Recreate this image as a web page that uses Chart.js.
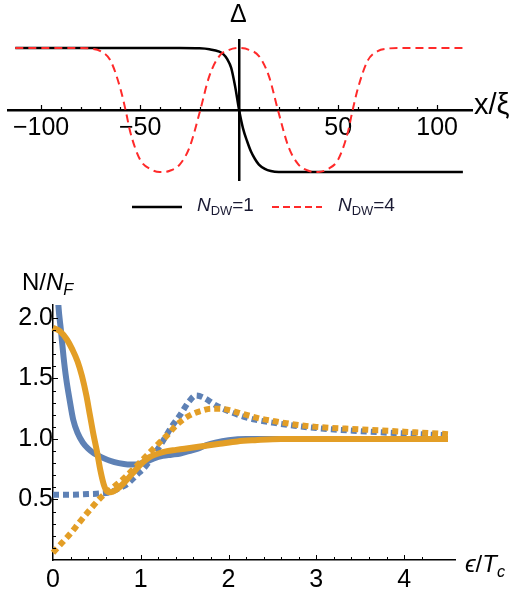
<!DOCTYPE html>
<html>
<head>
<meta charset="utf-8">
<script src="https://cdn.jsdelivr.net/npm/chart.js@4"></script>
<style>
  body { margin: 0; width: 521px; height: 599px; background: #fff; position: relative; overflow: hidden; font-family: "Liberation Sans", Arial, sans-serif; }
  canvas { position: absolute; left: 0; }
  #top { top: 0; }
  #bottom { top: 230px; }
  .lbl { position: absolute; line-height: 1; color: #000; white-space: nowrap; z-index: 2; }
  .lbl sub { font-size: 0.68em; vertical-align: -0.3em; }
  .leg { position: absolute; z-index: 2; }
</style>
</head>
<body>
<canvas id="top" width="521" height="230"></canvas>
<canvas id="bottom" width="521" height="369"></canvas>

<div class="lbl" style="left:230px; top:1px; font-size:25px;">Δ</div>
<div class="lbl" style="left:474px; top:90px; font-size:29px;">x/ξ</div>

<svg class="leg" style="left:132px; top:202px;" width="52" height="10"><line x1="0" y1="5" x2="50" y2="5" stroke="#000" stroke-width="2.5"/></svg>
<div class="lbl" style="left:197px; top:195px; font-size:19px; color:#1a1a33;"><i>N</i><sub>DW</sub>=1</div>
<svg class="leg" style="left:272px; top:202px;" width="52" height="10"><line x1="0" y1="5" x2="50" y2="5" stroke="#ff2a2a" stroke-width="2" stroke-dasharray="7,4"/></svg>
<div class="lbl" style="left:338px; top:195px; font-size:19px; color:#1a1a33;"><i>N</i><sub>DW</sub>=4</div>

<div class="lbl" style="left:22px; top:270px; font-size:24px;">N/<i>N</i><sub><i>F</i></sub></div>
<div class="lbl" style="left:465px; top:552px; font-size:24px;"><i>ϵ</i>/<i>T</i><sub><i>c</i></sub></div>

<script>
// ---- top panel: order parameter profile ----
const dwX1 = [-113, -30, -20, -15, -10, -8, -6, -4, -2, 0, 2, 4, 6, 8, 10, 13, 16, 20, 30, 113];
const dwY1 = [1, 1, 0.995, 0.98, 0.94, 0.9, 0.82, 0.68, 0.38, 0.0, -0.3, -0.5, -0.67, -0.79, -0.88, -0.95, -0.985, -1, -1, -1];

const dwX4 = [-113, -90, -80, -75, -70, -65, -60, -57, -55, -50, -45, -40, -38, -35, -30, -25, -20, -15, -10, -5, 0,
              5, 10, 15, 20, 25, 30, 35, 38, 40, 45, 50, 55, 57, 60, 65, 70, 75, 80, 90, 113];
const dwY4 = [1, 1, 1, 0.99, 0.95, 0.8, 0.35, -0.05, -0.35, -0.8, -0.95, -1, -1, -0.98, -0.88, -0.6, -0.05, 0.55, 0.87, 0.97, 1,
              0.97, 0.87, 0.55, -0.05, -0.6, -0.88, -0.98, -1, -1, -0.95, -0.8, -0.35, -0.05, 0.35, 0.8, 0.95, 0.99, 1, 1, 1];

const topTickLabels = [-100, -50, 50, 100];

// ---- bottom panel: density of states ----
const bsX = [0.03, 0.06, 0.09, 0.12, 0.15, 0.19, 0.23, 0.28, 0.34, 0.4, 0.47, 0.55, 0.65, 0.75, 0.85, 0.95, 1.05, 1.15, 1.25, 1.35, 1.45, 1.55, 1.65, 1.75, 1.85, 2.0, 2.2, 2.5, 3.0, 3.5, 4.0, 4.5];
const bsY = [2.6, 2.12, 1.9, 1.68, 1.5, 1.32, 1.16, 1.05, 0.97, 0.92, 0.88, 0.85, 0.82, 0.8, 0.79, 0.79, 0.81, 0.84, 0.86, 0.87, 0.88, 0.9, 0.92, 0.95, 0.97, 0.99, 1.0, 1.0, 1.0, 1.0, 1.0, 1.0];

const osX = [0, 0.08, 0.16, 0.22, 0.28, 0.33, 0.38, 0.42, 0.46, 0.5, 0.54, 0.58, 0.62, 0.66, 0.72, 0.8, 0.9, 1.0, 1.1, 1.2, 1.3, 1.4, 1.5, 1.7, 1.9, 2.1, 2.3, 2.6, 3.0, 3.5, 4.0, 4.5];
const osY = [1.92, 1.89, 1.82, 1.74, 1.64, 1.52, 1.36, 1.2, 1.04, 0.9, 0.74, 0.62, 0.565, 0.56, 0.58, 0.63, 0.71, 0.79, 0.85, 0.88, 0.9, 0.91, 0.92, 0.94, 0.96, 0.98, 0.99, 1.0, 1.0, 1.0, 1.0, 1.0];

const bdX = [0, 0.2, 0.4, 0.55, 0.65, 0.75, 0.85, 0.95, 1.05, 1.15, 1.25, 1.35, 1.45, 1.55, 1.63, 1.72, 1.85, 2.0, 2.15, 2.3, 2.5, 2.75, 3.0, 3.5, 4.0, 4.5];
const bdY = [0.54, 0.54, 0.545, 0.55, 0.56, 0.59, 0.63, 0.7, 0.77, 0.87, 0.98, 1.1, 1.2, 1.31, 1.36, 1.34, 1.28, 1.23, 1.19, 1.16, 1.135, 1.11, 1.09, 1.065, 1.045, 1.03];

const odX = [0, 0.1, 0.2, 0.3, 0.45, 0.55, 0.65, 0.8, 0.9, 1.05, 1.2, 1.3, 1.4, 1.5, 1.6, 1.7, 1.8, 1.9, 2.0, 2.15, 2.35, 2.5, 2.75, 3.0, 3.5, 4.0, 4.5];
const odY = [0.06, 0.14, 0.22, 0.31, 0.44, 0.52, 0.58, 0.67, 0.74, 0.85, 0.96, 1.03, 1.11, 1.17, 1.21, 1.235, 1.25, 1.25, 1.24, 1.21, 1.17, 1.15, 1.12, 1.1, 1.08, 1.06, 1.04];

const xTickLabels = [0, 1, 2, 3, 4];
const yTickLabels = [0.5, 1.0, 1.5, 2.0];

const BLUE = '#5E81B5';
const ORANGE = '#E39E26';
const FONT = "'Liberation Sans', Arial, sans-serif";

function pts(xs, ys) {
    return xs.map((x, i) => ({ x: x, y: ys[i] }));
}

function isMult(v, step) {
    return Math.abs(v / step - Math.round(v / step)) < 1e-6;
}

// Mathematica style tick marks, drawn inside the axes
function makeTicks(cfg) {
    return {
        id: 'axisTicks',
        afterDraw(chart) {
            const ctx = chart.ctx;
            const xs = chart.scales.x, ys = chart.scales.y;
            ctx.save();
            ctx.strokeStyle = '#000';
            ctx.lineWidth = cfg.width;
            const y0 = ys.getPixelForValue(cfg.xAt);
            xs.ticks.forEach(t => {
                const v = t.value;
                if (!isMult(v, cfg.xStep) || Math.abs(v) < 1e-9) return;
                const len = isMult(v, cfg.xMajor) ? cfg.majorLen : cfg.minorLen;
                const px = Math.round(xs.getPixelForValue(v)) + 0.5;
                ctx.beginPath();
                ctx.moveTo(px, y0);
                ctx.lineTo(px, y0 - len);
                ctx.stroke();
            });
            if (cfg.yStep) {
                const x0 = xs.getPixelForValue(cfg.yAt);
                ys.ticks.forEach(t => {
                    const v = t.value;
                    if (!isMult(v, cfg.yStep) || Math.abs(v) < 1e-9) return;
                    const len = isMult(v, cfg.yMajor) ? cfg.majorLen : cfg.minorLen;
                    const py = Math.round(ys.getPixelForValue(v)) + 0.5;
                    ctx.beginPath();
                    ctx.moveTo(x0, py);
                    ctx.lineTo(x0 + len, py);
                    ctx.stroke();
                });
            }
            ctx.restore();
        }
    };
}

const topChart = new Chart(document.getElementById('top'), {
    type: 'line',
    data: {
        datasets: [
            {
                label: 'N_DW=4',
                data: pts(dwX4, dwY4),
                borderColor: '#ff2a2a',
                borderWidth: 2,
                borderDash: [8, 5],
                pointRadius: 0,
                cubicInterpolationMode: 'monotone'
            },
            {
                label: 'N_DW=1',
                data: pts(dwX1, dwY1),
                borderColor: '#000',
                borderWidth: 2.5,
                pointRadius: 0,
                cubicInterpolationMode: 'monotone'
            }
        ]
    },
    options: {
        responsive: false,
        animation: false,
        layout: { padding: { left: 8, right: 49, top: 40, bottom: 50 } },
        plugins: { legend: { display: false }, tooltip: { enabled: false } },
        scales: {
            x: {
                type: 'linear',
                position: { y: 0 },
                min: -116.7,
                max: 117.6,
                grid: { display: true, drawOnChartArea: false, drawTicks: false },
                border: { display: true, color: '#000', width: 2.5 },
                ticks: {
                    stepSize: 10,
                    autoSkip: false,
                    maxRotation: 0,
                    padding: 3,
                    color: '#000',
                    font: { family: FONT, size: 25 },
                    callback: v => topTickLabels.includes(Math.round(v)) && isMult(v, 10) ? String(Math.round(v)).replace('-', '\u2212') : ''
                }
            },
            y: {
                type: 'linear',
                position: { x: 0 },
                min: -1.129,
                max: 1.129,
                grid: { display: true, drawOnChartArea: false, drawTicks: false },
                border: { display: true, color: '#000', width: 2.5 },
                ticks: { display: false }
            }
        }
    },
    plugins: [makeTicks({ width: 1.2, xAt: 0, xStep: 10, xMajor: 50, majorLen: 5, minorLen: 3 })]
});

const dotted = [6, 4];

const bottomChart = new Chart(document.getElementById('bottom'), {
    type: 'line',
    data: {
        datasets: [
            {
                label: 'orange dotted',
                data: pts(odX, odY),
                borderColor: ORANGE,
                borderWidth: 6,
                borderDash: dotted,
                borderCapStyle: 'butt',
                pointRadius: 0,
                cubicInterpolationMode: 'monotone',
                clip: { left: 4, top: 0, right: 6, bottom: 4 }
            },
            {
                label: 'orange solid',
                data: pts(osX, osY),
                borderColor: ORANGE,
                borderWidth: 6,
                pointRadius: 0,
                cubicInterpolationMode: 'monotone',
                clip: { left: 4, top: 0, right: 6, bottom: 4 }
            },
            {
                label: 'blue dotted',
                data: pts(bdX, bdY),
                borderColor: BLUE,
                borderWidth: 6,
                borderDash: dotted,
                borderCapStyle: 'butt',
                pointRadius: 0,
                cubicInterpolationMode: 'monotone',
                clip: { left: 4, top: 0, right: 6, bottom: 4 }
            },
            {
                label: 'blue solid',
                data: pts(bsX, bsY),
                borderColor: BLUE,
                borderWidth: 6,
                pointRadius: 0,
                cubicInterpolationMode: 'monotone',
                clip: { left: 4, top: 0, right: 6, bottom: 4 }
            }
        ]
    },
    options: {
        responsive: false,
        animation: false,
        layout: { padding: { left: 53, right: 66, top: 75, bottom: 39 } },
        plugins: { legend: { display: false }, tooltip: { enabled: false } },
        scales: {
            x: {
                type: 'linear',
                position: { y: 0 },
                min: 0,
                max: 4.58,
                grid: { display: true, drawOnChartArea: false, drawTicks: false },
                border: { display: true, color: '#000', width: 1.5 },
                ticks: {
                    stepSize: 0.2,
                    autoSkip: false,
                    maxRotation: 0,
                    padding: 5,
                    color: '#000',
                    font: { family: FONT, size: 25 },
                    callback: v => xTickLabels.some(t => Math.abs(t - v) < 1e-6) ? String(Math.round(v)) : ''
                }
            },
            y: {
                type: 'linear',
                position: { x: 0 },
                min: 0,
                max: 2.107,
                grid: { display: true, drawOnChartArea: false, drawTicks: false },
                border: { display: true, color: '#000', width: 1.5 },
                ticks: {
                    stepSize: 0.1,
                    autoSkip: false,
                    padding: 8,
                    color: '#000',
                    font: { family: FONT, size: 25 },
                    callback: v => yTickLabels.some(t => Math.abs(t - v) < 1e-6) ? v.toFixed(1) : ''
                }
            }
        }
    },
    plugins: [makeTicks({ width: 1, xAt: 0, xStep: 0.2, xMajor: 1, yAt: 0, yStep: 0.1, yMajor: 0.5, majorLen: 5, minorLen: 3 })]
});
</script>
</body>
</html>
